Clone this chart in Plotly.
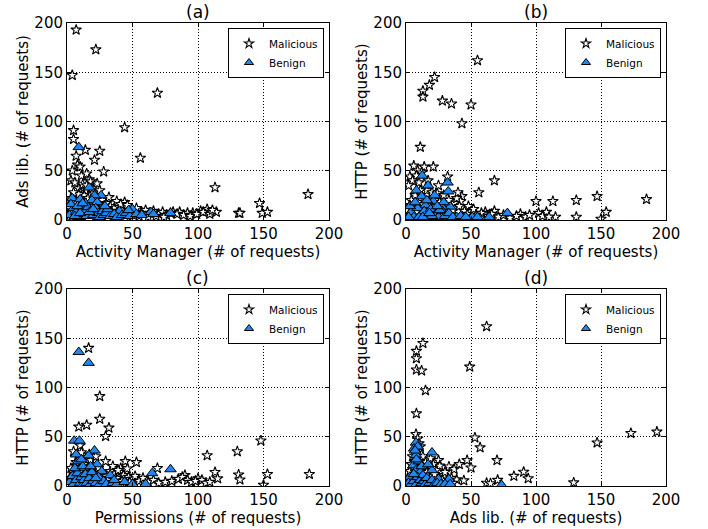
import plotly.graph_objects as go

# ---------------- data ----------------
# (a) Activity Manager vs Ads lib.
a_mal_x = [7, 22, 4, 69, 44, 56, 5, 5, 4, 14, 25, 21, 28, 7, 8, 10, 11, 15, 17, 18, 23, 9, 113, 184, 147, 149, 153, 131, 132, 114, 107, 102, 96, 92, 86, 81, 38, 44,
           3, 6, 12, 14, 20, 19, 25, 13, 9, 16, 27, 30, 33, 36, 40, 42, 47, 50, 53, 57, 60, 63, 66, 70, 73, 76, 79, 84, 89, 94, 99, 104, 109, 111,
           2, 4, 6, 8, 10, 12, 15, 18, 20, 22, 24, 26, 28, 31, 34, 37, 39, 45, 48, 52, 55, 62, 68, 74, 3, 5, 7, 11, 2, 1, 15, 19, 29, 32, 41, 46]
a_mal_y = [193, 173, 147, 129, 94, 63, 91, 82, 50, 71, 70, 61, 49, 65, 56, 54, 45, 47, 41, 39, 37, 32, 33, 26, 17, 7, 8, 7, 7, 8, 11, 9, 7, 7, 8, 8, 19, 18,
           40, 38, 36, 30, 28, 32, 30, 25, 26, 22, 20, 17, 14, 12, 13, 10, 11, 9, 12, 8, 10, 7, 9, 6, 8, 5, 7, 6, 5, 4, 6, 8, 6, 10,
           12, 8, 15, 5, 10, 3, 12, 7, 16, 4, 11, 7, 14, 5, 9, 4, 8, 5, 3, 6, 4, 3, 4, 3, 22, 28, 18, 20, 3, 6, 35, 14, 10, 23, 16, 15]
a_ben_x = [9, 17, 4, 26, 21, 10, 19, 23, 14, 50, 64, 79, 40, 34, 2, 5, 7, 9, 11, 12, 13, 15, 16, 18, 20, 22, 24, 25, 27, 28,
           30, 31, 33, 36, 38, 42, 45, 48, 53, 57, 3, 6, 8, 10, 12, 17, 20, 29, 47, 66]
a_ben_y = [74, 33, 22, 25, 25, 21, 20, 18, 17, 11, 8, 7, 9, 7, 5, 12, 8, 3, 14, 6, 10, 4, 13, 9, 5, 12, 7, 3, 9, 5,
           7, 11, 4, 6, 3, 5, 7, 4, 6, 5, 16, 4, 14, 7, 17, 8, 11, 14, 10, 6]

# (b) Activity Manager vs HTTP
b_mal_x = [55, 22, 18, 13, 13, 28, 35, 50, 43, 11, 6, 14, 21, 3, 32, 68, 56, 100, 113, 131, 147, 185, 154, 150, 131, 115, 108, 102, 88,
           9, 8, 12, 5, 10, 2, 16, 20, 24, 29, 43, 42, 37, 48, 61, 68, 7, 4, 3, 1, 6, 9, 11, 14, 18, 22, 26, 30, 33, 36, 39, 41, 45,
           47, 52, 54, 58, 63, 66, 71, 75, 80, 85, 92, 95, 105, 110, 2, 5, 8, 12, 15, 19, 23, 27, 31, 34, 38, 44, 50, 57, 17, 25, 40]
b_mal_y = [162, 145, 137, 131, 125, 121, 118, 117, 98, 74, 55, 54, 54, 44, 44, 40, 28, 19, 19, 20, 24, 21, 8, 1, 3, 3, 8, 7, 6,
           50, 45, 48, 40, 38, 35, 30, 28, 27, 25, 24, 19, 17, 14, 8, 9, 25, 20, 15, 10, 12, 18, 30, 22, 15, 20, 18, 12, 20, 10, 22, 14, 9,
           6, 11, 5, 7, 4, 6, 3, 5, 2, 4, 3, 5, 4, 3, 5, 3, 8, 2, 9, 6, 4, 7, 3, 5, 3, 2, 3, 2, 40, 35, 28]
b_ben_x = [12.5, 17, 32, 32.5, 8, 12, 21, 34, 27.5, 15, 78, 64, 51, 39, 22, 4, 6, 9, 11, 14, 17, 19, 23, 25, 28, 30, 33, 36, 42, 46,
           3, 7, 10, 16, 20, 26, 29, 2, 13, 55, 24, 18]
b_ben_y = [45, 35, 38, 29, 30, 24, 19, 13.5, 13.5, 15, 7, 3, 3, 3, 25, 8, 3, 12, 5, 9, 3, 11, 6, 3, 9, 4, 7, 3, 4, 3,
           14, 18, 3, 20, 4, 10, 18, 3, 3, 3, 14, 7]

# (c) Permissions vs HTTP
c_mal_x = [16.5, 25, 25, 15, 9, 32, 29.5, 29.5, 44.5, 53, 69, 107, 130, 148, 185, 153, 150, 131, 132, 113, 115, 10, 90, 100, 41, 46,
           5, 8, 12, 18, 22, 20, 24, 27, 30, 33, 36, 38, 40, 43, 47, 50, 52, 55, 58, 62, 66, 70, 75, 80, 85, 88, 92, 95, 98, 103, 106, 109,
           2, 4, 6, 8, 10, 12, 14, 16, 18, 20, 23, 26, 28, 31, 34, 37, 42, 45, 48, 3, 7, 13, 11, 17, 21, 35, 39]
c_mal_y = [140, 91, 68, 62, 60, 59, 50.5, 25, 25, 24, 18, 31, 35, 46, 12, 12, 1, 11.5, 6.4, 14, 7.5, 41, 11, 7.5, 18, 17.5,
           35, 30, 28, 26, 30, 20, 18, 14, 10, 15, 12, 8, 14, 11, 9, 7, 10, 5, 8, 4, 6, 3, 4, 5, 7, 9, 6, 4, 5, 6, 3, 4,
           8, 4, 12, 20, 15, 6, 10, 3, 14, 8, 5, 8, 3, 6, 4, 3, 5, 3, 4, 18, 24, 22, 34, 32, 11, 20, 16]
c_ben_x = [9, 16.5, 5.5, 9.5, 21, 16.5, 8.5, 23, 26.5, 13, 65, 79, 33, 2, 4, 5, 7, 8, 10, 11, 12, 13, 14, 15, 17, 18, 19, 20,
           22, 24, 25, 28, 30, 35, 38, 44, 50, 60, 6, 12, 18, 7, 11, 22, 36]
c_ben_y = [136, 125, 46, 46, 36, 31, 25, 22, 15, 18, 13, 17, 11, 4, 10, 2, 6, 13, 3, 9, 1, 6, 12, 3, 8, 2, 14, 5,
           3, 9, 2, 5, 2, 3, 2, 4, 2, 2, 18, 20, 20, 32, 27, 8, 6]

# (d) Ads lib. vs HTTP
d_mal_x = [62, 13, 8, 8, 8, 12, 49, 15, 8, 7.7, 53, 57, 47, 50, 70, 83, 90.5, 94, 70.5, 62, 65, 129, 147, 173, 193, 33, 37, 41, 25, 26, 29, 39, 44.5, 32.5,
           3, 5, 6, 7, 9, 10, 11, 12, 13, 14, 15, 16, 17, 18, 19, 20, 21, 22, 23, 24, 2, 4, 6, 8, 10, 12, 14, 16, 18, 20, 22, 26, 28, 30, 35, 36, 9, 10, 5, 4]
d_mal_y = [162, 145, 137, 129.5, 118, 117, 121, 97, 73.5, 52.5, 49, 39, 26, 18.6, 26, 10, 14.3, 7.6, 6, 3, 2.5, 3.4, 44, 53.6, 55, 19.5, 17, 22, 26, 20.5, 10.8, 6.5, 5.5, 3,
           15, 10, 20, 28, 35, 25, 40, 18, 30, 12, 24, 8, 20, 15, 28, 10, 22, 5, 16, 8, 5, 3, 6, 12, 4, 8, 3, 14, 4, 18, 12, 4, 6, 14, 8, 3, 48, 43, 30, 22]
d_ben_x = [7.7, 6.2, 7.7, 5.6, 7.7, 20, 20, 11, 3, 33, 25, 73.5, 2, 4, 6, 8, 9, 10, 8, 11, 12, 13, 14, 15, 16, 18, 20, 22, 24, 27, 30, 34,
           9, 6, 7, 12, 17]
d_ben_y = [44, 38, 31.5, 21, 16, 34, 16, 14.5, 9.4, 7, 7, 1, 3, 2, 5, 2, 9, 25, 27, 6, 3, 11, 5, 2, 8, 3, 6, 2, 3, 2, 2, 2,
           40, 12, 36, 20, 22]

panels = [
    ("(a)", a_mal_x, a_mal_y, a_ben_x, a_ben_y, "Activity Manager (# of requests)", "Ads lib. (# of requests)"),
    ("(b)", b_mal_x, b_mal_y, b_ben_x, b_ben_y, "Activity Manager (# of requests)", "HTTP (# of requests)"),
    ("(c)", c_mal_x, c_mal_y, c_ben_x, c_ben_y, "Permissions (# of requests)", "HTTP (# of requests)"),
    ("(d)", d_mal_x, d_mal_y, d_ben_x, d_ben_y, "Ads lib. (# of requests)", "HTTP (# of requests)"),
]
axis_ticks = [0, 50, 100, 150, 200]

# ---------------- layout geometry (pixels) ----------------
W, H = 708, 529
boxes = [  # left, right, top, bottom
    (67, 329, 23, 220),
    (406, 666, 23, 220),
    (67, 329, 289, 486),
    (406, 666, 289, 486),
]
BLUE = "#1E88F0"

fig = go.Figure()
layout = dict(
    width=W, height=H,
    margin=dict(l=0, r=0, t=0, b=0, autoexpand=False),
    paper_bgcolor="white", plot_bgcolor="white",
    font=dict(family="DejaVu Sans", size=15, color="black"),
    annotations=[],
)

for i, (title, mx, my, bx, by, xt, yt) in enumerate(panels):
    n = "" if i == 0 else str(i + 1)
    xa, ya = "x" + n, "y" + n
    leg = "legend" + n
    l, r, t, b = boxes[i]
    # data traces
    fig.add_trace(go.Scatter(x=mx, y=my, mode="markers", xaxis=xa, yaxis=ya, showlegend=False,
                             marker=dict(symbol="star", size=8, color="white", line=dict(color="black", width=1.1))))
    fig.add_trace(go.Scatter(x=bx, y=by, mode="markers", xaxis=xa, yaxis=ya, showlegend=False,
                             marker=dict(symbol="triangle-up", size=10, color=BLUE, line=dict(color="black", width=1))))
    # legend entries
    fig.add_trace(go.Scatter(x=[None], y=[None], mode="markers", xaxis=xa, yaxis=ya, name="Malicious", legend=leg,
                             marker=dict(symbol="star", size=7, color="white", line=dict(color="black", width=1.1))))
    fig.add_trace(go.Scatter(x=[None], y=[None], mode="markers", xaxis=xa, yaxis=ya, name="Benign", legend=leg,
                             marker=dict(symbol="triangle-up", size=8, color=BLUE, line=dict(color="black", width=1))))
    common = dict(range=[0, 200], tickvals=axis_ticks, showgrid=True, gridcolor="black", griddash="1px,2px", gridwidth=1,
                  showline=True, linecolor="black", linewidth=1, mirror="ticks", ticks="inside", ticklen=4,
                  tickcolor="black", zeroline=False, tickfont=dict(size=15), automargin=False)
    layout["xaxis" + n] = dict(common, domain=[l / W, r / W], anchor=ya,
                               title=dict(text=xt, standoff=2, font=dict(size=15)))
    layout["yaxis" + n] = dict(common, domain=[1 - b / H, 1 - t / H], anchor=xa,
                               title=dict(text=yt, standoff=2, font=dict(size=15)))
    layout[leg] = dict(x=(r - 5) / W, xanchor="right", y=1 - (t + 5) / H, yanchor="top",
                       bordercolor="black", borderwidth=1, bgcolor="white", font=dict(size=10.5),
                       tracegroupgap=0, itemwidth=30)
    ty = 12 if i < 2 else 278
    layout["annotations"].append(dict(text=title, x=(l + r) / 2 / W, y=1 - ty / H, xref="paper", yref="paper",
                                      showarrow=False, font=dict(size=17), xanchor="center", yanchor="middle"))

fig.update_layout(**layout)
fig.write_html("out.html")
